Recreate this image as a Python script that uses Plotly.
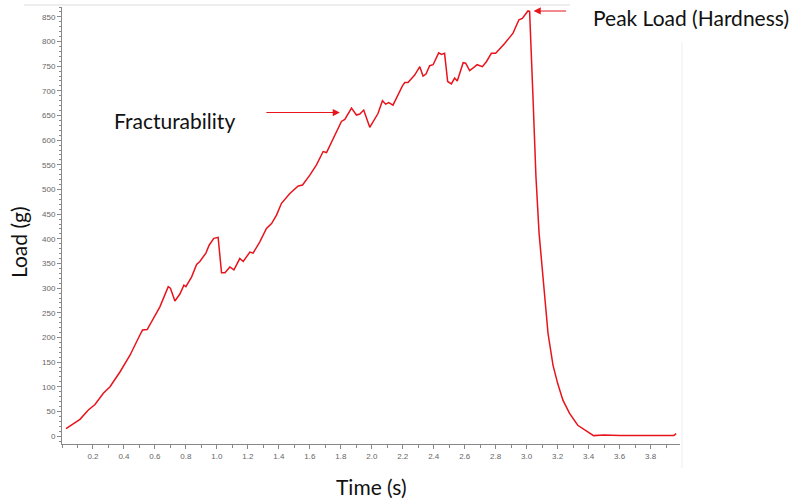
import plotly.graph_objects as go

time_s = [0.026, 0.07, 0.116, 0.17, 0.213, 0.267, 0.31, 0.374, 0.439, 0.503, 0.52, 0.55,
          0.59, 0.632, 0.686, 0.70, 0.729, 0.761, 0.787, 0.80, 0.837, 0.869, 0.89, 0.929,
          0.95, 0.98, 1.008, 1.03, 1.052, 1.084, 1.11, 1.148, 1.17, 1.213, 1.234, 1.277,
          1.32, 1.353, 1.385, 1.417, 1.471, 1.525, 1.553, 1.6, 1.643, 1.686, 1.708, 1.761,
          1.804, 1.826, 1.869, 1.901, 1.923, 1.948, 1.987, 2.04, 2.069, 2.09, 2.11, 2.137,
          2.163, 2.198, 2.213, 2.234, 2.277, 2.31, 2.331, 2.35, 2.374, 2.396, 2.432, 2.45,
          2.47, 2.49, 2.514, 2.535, 2.552, 2.59, 2.606, 2.632, 2.665, 2.68, 2.714, 2.74,
          2.772, 2.8, 2.858, 2.912, 2.95, 2.972, 3.008, 3.019, 3.04, 3.06, 3.08, 3.116,
          3.138, 3.17, 3.2, 3.234, 3.277, 3.33, 3.385, 3.432, 3.5, 3.55, 3.6, 3.7, 3.8,
          3.9, 3.95, 3.965]
load_g = [15, 24, 34, 53, 64, 87, 100, 130, 164, 205, 215, 216,
          239, 262, 303, 300, 274, 288, 306, 303, 323, 348, 354, 371,
          387, 401, 403, 331, 331, 343, 337, 360, 354, 373, 371, 394,
          421, 431, 448, 472, 492, 507, 509, 529, 550, 577, 575, 611,
          638, 642, 665, 651, 653, 661, 626, 654, 680, 673, 676, 671,
          688, 710, 717, 717, 732, 749, 730, 734, 751, 753, 777, 774,
          776, 719, 714, 726, 720, 757, 756, 741, 749, 753, 749, 759,
          776, 776, 796, 817, 844, 847, 862, 861, 694, 526, 412, 276,
          208, 144, 107, 73, 46, 22, 11, 1, 2, 1, 1, 1, 1,
          1, 1, 5]

y_ticks = list(range(0, 851, 50))
x_ticks = [round(0.2 * i, 1) for i in range(1, 20)]
x_tick_labels = [f"{v:.1f}" for v in x_ticks]

fract_point = (1.794, 656)
peak_point = (3.045, 862)

RED = "#e8141c"

fig = go.Figure()
fig.add_trace(go.Scatter(x=time_s, y=load_g, mode="lines",
                         line=dict(color=RED, width=1.5), showlegend=False,
                         hoverinfo="x+y"))

tick_font = dict(family="Liberation Sans, Arial, sans-serif", size=8, color="#666666")
label_font = dict(family="Lato, sans-serif", size=21, color="#111111")

fig.update_layout(
    width=790, height=500,
    margin=dict(l=62, r=110, t=7, b=56),
    paper_bgcolor="white", plot_bgcolor="white",
    xaxis=dict(range=[0, 3.99], tickvals=x_ticks, ticktext=x_tick_labels,
               showgrid=False, zeroline=False, showline=True, linecolor="#888888",
               linewidth=1, ticks="outside", ticklen=4, tickcolor="#888888",
               tickfont=tick_font,
               minor=dict(dtick=0.1, tick0=0, ticks="outside", ticklen=3,
                          tickcolor="#888888", showgrid=False)),
    yaxis=dict(range=[-16, 870], tickvals=y_ticks,
               showgrid=False, zeroline=False, showline=True, linecolor="#888888",
               linewidth=1, ticks="outside", ticklen=4, tickcolor="#888888",
               tickfont=tick_font,
               minor=dict(dtick=10, tick0=0, ticks="outside", ticklen=2,
                          tickcolor="#888888", showgrid=False)),
    annotations=[
        dict(text="Load (g)", xref="paper", yref="paper", x=-0.0712, y=0.462,
             textangle=-90, showarrow=False, font=label_font,
             xanchor="center", yanchor="middle"),
        dict(text="Time (s)", xref="paper", yref="paper", x=0.5, y=-0.098,
             showarrow=False, font=label_font, xanchor="center", yanchor="middle"),
        dict(text="Fracturability", x=0.323, y=639, xref="x", yref="y",
             showarrow=False, font=label_font, xanchor="left", yanchor="middle"),
        dict(text="Peak Load (Hardness)", x=3.413, y=848, xref="x", yref="y",
             showarrow=False, font=label_font, xanchor="left", yanchor="middle"),
        dict(text="", x=fract_point[0], y=fract_point[1], xref="x", yref="y",
             ax=-75, ay=0, axref="pixel", ayref="pixel", showarrow=True,
             arrowhead=2, arrowsize=1.3, arrowwidth=1.1, arrowcolor=RED),
        dict(text="", x=peak_point[0], y=peak_point[1], xref="x", yref="y",
             ax=34, ay=0, axref="pixel", ayref="pixel", showarrow=True,
             arrowhead=2, arrowsize=1.3, arrowwidth=1.1, arrowcolor=RED),
    ],
    shapes=[
        dict(type="line", xref="paper", yref="paper", x0=-0.0615, x1=0.822,
             y0=1.0046, y1=1.0046, line=dict(color="#dddddd", width=1)),
        dict(type="line", xref="paper", yref="paper", x0=1.0032, x1=1.0032,
             y0=-0.055, y1=0.92, line=dict(color="#eeeeee", width=1)),
    ],
)

fig.write_html("out.html", config={"displayModeBar": False},
               post_script="document.body.style.margin='0';document.body.style.padding='0';")
